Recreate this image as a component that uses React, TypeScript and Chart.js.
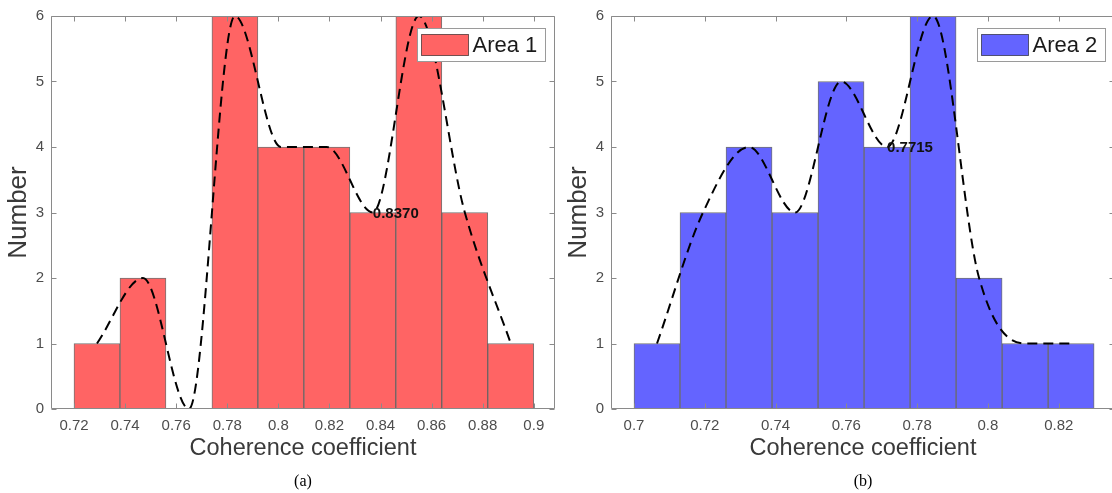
import { useEffect, useRef } from "react";
import { Chart, registerables } from "chart.js";

Chart.register(...registerables);

// ---------- data ----------
const binCentersA = [0.729, 0.747, 0.765, 0.783, 0.801, 0.819, 0.837, 0.855, 0.873, 0.891];
const countsA = [1, 2, 0, 6, 4, 4, 3, 6, 3, 1];
const xTicksA = [0.72, 0.74, 0.76, 0.78, 0.8, 0.82, 0.84, 0.86, 0.88, 0.9];
const xRangeA = [0.711, 0.9083];
const markA = [0.837, 3];
const markTextA = "0.8370";
const legendA = "Area 1";

const binCentersB = [0.7065, 0.7195, 0.7325, 0.7455, 0.7585, 0.7715, 0.7845, 0.7975, 0.8105, 0.8235];
const countsB = [1, 3, 4, 3, 5, 4, 6, 2, 1, 1];
const xTicksB = [0.7, 0.72, 0.74, 0.76, 0.78, 0.8, 0.82];
const xRangeB = [0.6935, 0.8359];
const markB = [0.7715, 4];
const markTextB = "0.7715";
const legendB = "Area 2";

const yTicks = [0, 1, 2, 3, 4, 5, 6];
const xTitle = "Coherence coefficient";
const yTitle = "Number";

// ---------- styles ----------
const SANS = "'Liberation Sans', Arial, Helvetica, sans-serif";
const AXIS_COLOR = "#8a8a8a";
const TICK_COLOR = "#4d4d4d";
const TITLE_COLOR = "#3a3a3a";

const matlabBox = {
  id: "matlabBox",
  afterDatasetsDraw(chart: any) {
    const { ctx, chartArea: a, scales } = chart;
    const x = scales.x, y = scales.y;
    ctx.save();
    ctx.strokeStyle = AXIS_COLOR;
    ctx.lineWidth = 1;
    ctx.beginPath();
    const L = Math.round(a.left) + 0.5, R = Math.round(a.right) - 0.5;
    const T = Math.round(a.top) + 0.5, B = Math.round(a.bottom) - 0.5;
    ctx.rect(L, T, R - L, B - T);
    const tl = 5;
    x.ticks.forEach((t: any) => {
      const px = Math.round(x.getPixelForValue(t.value)) + 0.5;
      ctx.moveTo(px, B); ctx.lineTo(px, B - tl);
      ctx.moveTo(px, T); ctx.lineTo(px, T + tl);
    });
    y.ticks.forEach((t: any) => {
      const py = Math.round(y.getPixelForValue(t.value)) + 0.5;
      ctx.moveTo(L, py); ctx.lineTo(L + tl, py);
      ctx.moveTo(R, py); ctx.lineTo(R - tl, py);
    });
    ctx.stroke();
    ctx.restore();
  },
  afterDraw(chart: any) {
    const { ctx, chartArea: a, scales } = chart;
    const opts = chart.options.plugins.matlabExtras;
    if (!opts) return;
    ctx.save();
    // data mark text
    const mx = scales.x.getPixelForValue(opts.mark[0]);
    const my = scales.y.getPixelForValue(opts.mark[1]);
    ctx.font = `bold 15px ${SANS}`;
    ctx.fillStyle = "#111";
    ctx.textAlign = "left";
    ctx.textBaseline = "middle";
    ctx.fillText(opts.markText, mx, my + 1);
    // legend
    const ds = chart.data.datasets.find((d: any) => d.type === "bar");
    const w = 128, h = 33;
    const bx = Math.round(a.right - 10 - w) + 0.5;
    const by = Math.round(a.top + 12) + 0.5;
    ctx.fillStyle = "#fff";
    ctx.fillRect(bx, by, w, h);
    ctx.strokeStyle = "#9a9a9a";
    ctx.lineWidth = 1;
    ctx.strokeRect(bx, by, w, h);
    ctx.fillStyle = ds.backgroundColor;
    ctx.fillRect(bx + 4, by + 6, 47, 21);
    ctx.strokeStyle = "rgba(0,0,0,0.55)";
    ctx.strokeRect(bx + 4, by + 6, 47, 21);
    ctx.font = `22px ${SANS}`;
    ctx.fillStyle = "#1a1a1a";
    ctx.textBaseline = "middle";
    ctx.fillText(ds.label, bx + 55, by + h / 2 + 1);
    ctx.restore();
  },
};

function makeConfig(
  centers: number[],
  counts: number[],
  ticks: number[],
  range: number[],
  color: string,
  label: string,
  mark: number[],
  markText: string
): any {
  return {
    type: "bar",
    data: {
      datasets: [
        {
          type: "line",
          label: "fit",
          data: centers.map((c, i) => ({ x: c, y: counts[i] })),
          borderColor: "#000",
          borderWidth: 2,
          borderDash: [10, 6],
          pointRadius: 0,
          cubicInterpolationMode: "monotone",
          fill: false,
          order: 0,
        },
        {
          type: "bar",
          label,
          data: centers.map((c, i) => ({ x: c, y: counts[i] })),
          backgroundColor: color,
          borderColor: "rgba(0,0,0,0.55)",
          borderWidth: 1,
          borderSkipped: false,
          barPercentage: 1,
          categoryPercentage: 1,
          order: 1,
        },
      ],
    },
    options: {
      responsive: false,
      animation: false,
      devicePixelRatio: 1,
      layout: { padding: { left: 0, top: 14, right: 5, bottom: 0 } },
      plugins: {
        legend: { display: false },
        tooltip: { enabled: false },
        matlabExtras: { mark, markText },
      },
      scales: {
        x: {
          type: "linear",
          offset: false,
          min: range[0],
          max: range[1],
          afterBuildTicks: (s: any) => {
            s.ticks = ticks.map((v) => ({ value: v }));
          },
          afterFit: (s: any) => {
            s.height = 84;
          },
          grid: { display: false, drawTicks: false, offset: false },
          border: { display: false },
          ticks: {
            autoSkip: false,
            maxRotation: 0,
            padding: 8,
            color: TICK_COLOR,
            font: { family: SANS, size: 15 },
            callback: (v: any) => String(+Number(v).toFixed(2)),
          },
          title: {
            display: true,
            text: xTitle,
            color: TITLE_COLOR,
            font: { family: SANS, size: 23.5 },
            padding: { top: 0, bottom: 30 },
          },
        },
        y: {
          type: "linear",
          min: 0,
          max: 6,
          afterBuildTicks: (s: any) => {
            s.ticks = yTicks.map((v) => ({ value: v }));
          },
          afterFit: (s: any) => {
            s.width = 51;
          },
          grid: { display: false, drawTicks: false },
          border: { display: false },
          ticks: {
            padding: 7,
            color: TICK_COLOR,
            font: { family: SANS, size: 15 },
          },
          title: {
            display: true,
            text: yTitle,
            color: TITLE_COLOR,
            font: { family: SANS, size: 26 },
            padding: { top: 3, bottom: 0 },
          },
        },
      },
    },
    plugins: [matlabBox],
  };
}

function Panel(props: { left: number; config: any; caption: string }) {
  const ref = useRef<HTMLCanvasElement | null>(null);
  useEffect(() => {
    if (!ref.current) return;
    const chart = new Chart(ref.current, props.config);
    return () => chart.destroy();
  }, []);
  return (
    <div style={{ position: "absolute", left: props.left, top: 0, width: 560, height: 493 }}>
      <canvas ref={ref} width={560} height={493} style={{ width: 560, height: 493, display: "block" }} />
      <div
        style={{
          position: "absolute",
          left: 51,
          width: 504,
          top: 472,
          textAlign: "center",
          fontFamily: "'Liberation Serif', 'Times New Roman', serif",
          fontSize: 16,
          lineHeight: "18px",
          color: "#000",
        }}
      >
        {props.caption}
      </div>
    </div>
  );
}

export default function App() {
  const cfgA = makeConfig(binCentersA, countsA, xTicksA, xRangeA, "#ff6464", legendA, markA, markTextA);
  const cfgB = makeConfig(binCentersB, countsB, xTicksB, xRangeB, "#6464ff", legendB, markB, markTextB);
  return (
    <div
      style={{
        position: "fixed",
        left: 0,
        top: 0,
        width: 1112,
        height: 493,
        overflow: "hidden",
        background: "#fff",
      }}
    >
      <Panel left={0} config={cfgA} caption="(a)" />
      <Panel left={560} config={cfgB} caption="(b)" />
    </div>
  );
}
